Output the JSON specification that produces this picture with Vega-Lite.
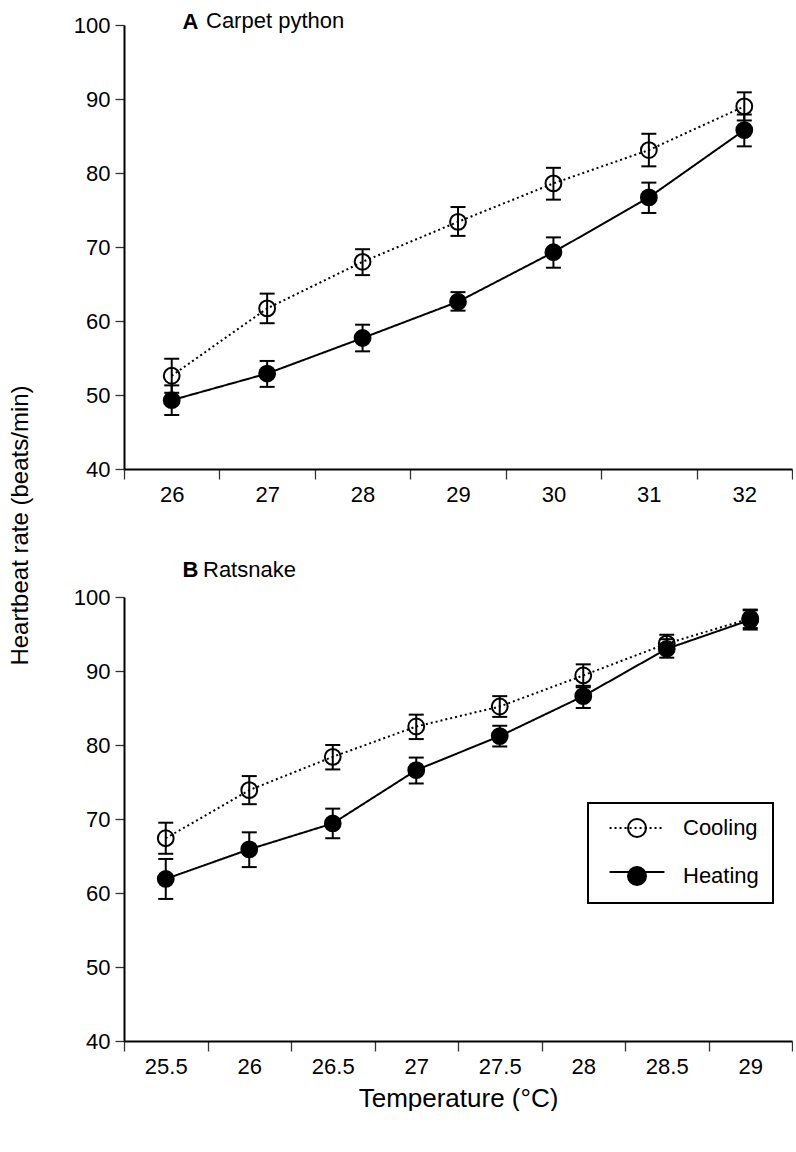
{
  "$schema": "https://vega.github.io/schema/vega-lite/v6.json",
  "padding": {"left": 8, "top": 10, "right": 0, "bottom": 0},
  "background": "white",
  "bounds": "flush",
  "spacing": 128,
  "config": {
    "view": {"stroke": null},
    "font": "Liberation Sans",
    "axis": {
      "domainColor": "black",
      "domainWidth": 2,
      "tickColor": "#333333",
      "tickWidth": 1.3,
      "labelColor": "black",
      "labelFont": "Liberation Sans",
      "labelFontSize": 22,
      "titleFont": "Liberation Sans",
      "titleColor": "black",
      "titleFontWeight": "normal",
      "grid": false
    },
    "legend": {"strokeWidth": 2},
    "title": {"font": "Liberation Sans", "color": "black"}
  },
  "resolve": {
    "scale": {"fill": "independent", "strokeDash": "independent"},
    "legend": {"fill": "independent", "strokeDash": "independent"}
  },
  "vconcat": [
    {
      "width": 668,
      "height": 444,
      "title": {
        "text": "Carpet python",
        "anchor": "start",
        "frame": "group",
        "dx": 82,
        "offset": -23,
        "fontSize": 22,
        "fontWeight": "normal"
      },
      "data": {
        "values": [
          {"temp": 26, "mode": "Cooling", "mean": 52.6, "lo": 50.3, "hi": 54.9},
          {"temp": 26, "mode": "Heating", "mean": 49.3, "lo": 47.3, "hi": 51.3},
          {"temp": 27, "mode": "Cooling", "mean": 61.7, "lo": 59.7, "hi": 63.7},
          {"temp": 27, "mode": "Heating", "mean": 52.9, "lo": 51.1, "hi": 54.6},
          {"temp": 28, "mode": "Cooling", "mean": 68.0, "lo": 66.2, "hi": 69.7},
          {"temp": 28, "mode": "Heating", "mean": 57.7, "lo": 55.9, "hi": 59.5},
          {"temp": 29, "mode": "Cooling", "mean": 73.4, "lo": 71.5, "hi": 75.4},
          {"temp": 29, "mode": "Heating", "mean": 62.6, "lo": 61.4, "hi": 63.9},
          {"temp": 30, "mode": "Cooling", "mean": 78.6, "lo": 76.4, "hi": 80.7},
          {"temp": 30, "mode": "Heating", "mean": 69.3, "lo": 67.2, "hi": 71.3},
          {"temp": 31, "mode": "Cooling", "mean": 83.1, "lo": 80.9, "hi": 85.3},
          {"temp": 31, "mode": "Heating", "mean": 76.7, "lo": 74.6, "hi": 78.7},
          {"temp": 32, "mode": "Cooling", "mean": 89.0, "lo": 87.1, "hi": 90.9},
          {"temp": 32, "mode": "Heating", "mean": 85.8, "lo": 83.6, "hi": 87.9}
        ]
      },
      "encoding": {
        "x": {
          "field": "temp",
          "type": "ordinal",
          "title": "A",
          "scale": {"type": "band", "paddingInner": 0, "paddingOuter": 0, "domain": [26, 27, 28, 29, 30, 31, 32]},
          "axis": {
            "labelAngle": 0,
            "tickBand": "extent",
            "tickSize": 10,
            "labelPadding": 5,
            "titleFontSize": 22,
            "titleFontWeight": "bold",
            "titleX": 58,
            "titleY": -441,
            "titleAlign": "left",
            "titleBaseline": "alphabetic",
            "titleAngle": 0
          }
        }
      },
      "layer": [
        {
          "mark": {"type": "line", "color": "black", "strokeWidth": 2},
          "encoding": {
            "y": {
              "field": "mean",
              "type": "quantitative",
              "title": "Heartbeat rate (beats/min)",
              "scale": {"domain": [40, 100], "nice": false, "zero": false},
              "axis": {
                "values": [40, 50, 60, 70, 80, 90, 100],
                "tickSize": 9,
                "labelPadding": 5,
                "titleFontSize": 24,
                "titleX": -104,
                "titleY": 500,
                "titleBaseline": "middle",
                "titleAlign": "center"
              }
            },
            "strokeDash": {
              "field": "mode",
              "type": "nominal",
              "scale": {"range": [[2, 3], [1, 0]]},
              "legend": null
            }
          }
        },
        {
          "mark": {"type": "errorbar", "color": "black", "opacity": 1, "thickness": 2, "ticks": {"size": 15, "thickness": 2, "color": "black", "opacity": 1}},
          "encoding": {
            "y": {"field": "lo", "type": "quantitative", "title": "Heartbeat rate (beats/min)"},
            "y2": {"field": "hi"}
          }
        },
        {
          "mark": {"type": "point", "shape": "circle", "filled": true, "size": 250, "stroke": "black", "strokeWidth": 2, "opacity": 1},
          "encoding": {
            "y": {"field": "mean", "type": "quantitative", "title": "Heartbeat rate (beats/min)"},
            "fill": {
              "field": "mode",
              "type": "nominal",
              "scale": {"range": ["transparent", "black"]},
              "legend": null
            }
          }
        }
      ]
    },
    {
      "width": 668,
      "height": 444,
      "title": {
        "text": "Ratsnake",
        "anchor": "start",
        "frame": "group",
        "dx": 79,
        "offset": -24,
        "fontSize": 22,
        "fontWeight": "normal"
      },
      "data": {
        "values": [
          {"temp": 25.5, "mode": "Cooling", "mean": 67.4, "lo": 65.3, "hi": 69.5},
          {"temp": 25.5, "mode": "Heating", "mean": 61.9, "lo": 59.2, "hi": 64.6},
          {"temp": 26, "mode": "Cooling", "mean": 73.9, "lo": 72.0, "hi": 75.8},
          {"temp": 26, "mode": "Heating", "mean": 65.9, "lo": 63.5, "hi": 68.2},
          {"temp": 26.5, "mode": "Cooling", "mean": 78.4, "lo": 76.7, "hi": 80.0},
          {"temp": 26.5, "mode": "Heating", "mean": 69.4, "lo": 67.4, "hi": 71.4},
          {"temp": 27, "mode": "Cooling", "mean": 82.5, "lo": 80.8, "hi": 84.1},
          {"temp": 27, "mode": "Heating", "mean": 76.6, "lo": 74.8, "hi": 78.3},
          {"temp": 27.5, "mode": "Cooling", "mean": 85.2, "lo": 83.8, "hi": 86.6},
          {"temp": 27.5, "mode": "Heating", "mean": 81.2, "lo": 79.8, "hi": 82.6},
          {"temp": 28, "mode": "Cooling", "mean": 89.4, "lo": 87.8, "hi": 90.9},
          {"temp": 28, "mode": "Heating", "mean": 86.6, "lo": 85.0, "hi": 88.0},
          {"temp": 28.5, "mode": "Cooling", "mean": 93.7, "lo": 92.5, "hi": 94.9},
          {"temp": 28.5, "mode": "Heating", "mean": 93.0, "lo": 91.8, "hi": 94.3},
          {"temp": 29, "mode": "Cooling", "mean": 97.1, "lo": 95.8, "hi": 98.3},
          {"temp": 29, "mode": "Heating", "mean": 96.9, "lo": 95.6, "hi": 98.2}
        ]
      },
      "encoding": {
        "x": {
          "field": "temp",
          "type": "ordinal",
          "scale": {"type": "band", "paddingInner": 0, "paddingOuter": 0, "domain": [25.5, 26, 26.5, 27, 27.5, 28, 28.5, 29]},
          "axis": {
            "labelAngle": 0,
            "tickBand": "extent",
            "tickSize": 10,
            "labelPadding": 5,
            "title": "Temperature (°C)",
            "titleFontSize": 26,
            "titleY": 57,
            "titleBaseline": "middle"
          }
        }
      },
      "layer": [
        {
          "mark": {"type": "line", "color": "black", "strokeWidth": 2},
          "encoding": {
            "y": {
              "field": "mean",
              "type": "quantitative",
              "title": "B",
              "scale": {"domain": [40, 100], "nice": false, "zero": false},
              "axis": {
                "values": [40, 50, 60, 70, 80, 90, 100],
                "tickSize": 9,
                "labelPadding": 5,
                "titleFontSize": 22,
                "titleFontWeight": "bold",
                "titleAngle": 0,
                "titleX": 58,
                "titleY": -21,
                "titleAlign": "left",
                "titleBaseline": "alphabetic"
              }
            },
            "strokeDash": {
              "field": "mode",
              "type": "nominal",
              "scale": {"domain": ["Cooling", "Heating"], "range": [[2, 3], [1, 0]]},
              "legend": {
                "orient": "none",
                "legendX": 464,
                "legendY": 206,
                "title": null,
                "symbolType": "M-3.05,0H3.05",
                "symbolSize": 324,
                "symbolOffset": 24,
                "symbolStrokeColor": "black",
                "symbolStrokeWidth": 2,
                "symbolFillColor": "transparent",
                "labelFontSize": 22,
                "labelFont": "Liberation Sans",
                "labelColor": "transparent",
                "labelExpr": "'\u00a0'",
                "labelOffset": 35,
                "strokeColor": null,
                "fillColor": null,
                "padding": 14,
                "rowPadding": 22
              }
            }
          }
        },
        {
          "mark": {"type": "errorbar", "color": "black", "opacity": 1, "thickness": 2, "ticks": {"size": 15, "thickness": 2, "color": "black", "opacity": 1}},
          "encoding": {
            "y": {"field": "lo", "type": "quantitative", "title": "B"},
            "y2": {"field": "hi"}
          }
        },
        {
          "mark": {"type": "point", "shape": "circle", "filled": true, "size": 250, "stroke": "black", "strokeWidth": 2, "opacity": 1},
          "encoding": {
            "y": {"field": "mean", "type": "quantitative", "title": "B"},
            "fill": {
              "field": "mode",
              "type": "nominal",
              "scale": {"range": ["transparent", "black"]},
              "legend": {
                "orient": "none",
                "legendX": 464,
                "legendY": 206,
                "title": null,
                "symbolType": "M-3.05,0M3.05,0M1,0A1,1,0,1,1,-1,0A1,1,0,1,1,1,0Z",
                "symbolSize": 324,
                "symbolOffset": 24,
                "symbolStrokeColor": "black",
                "symbolStrokeWidth": 2,
                "labelFontSize": 22,
                "labelFont": "Liberation Sans",
                "labelColor": "black",
                "labelOffset": 35,
                "strokeColor": "black",
                "fillColor": null,
                "padding": 14,
                "rowPadding": 22
              }
            }
          }
        }
      ]
    }
  ]
}
